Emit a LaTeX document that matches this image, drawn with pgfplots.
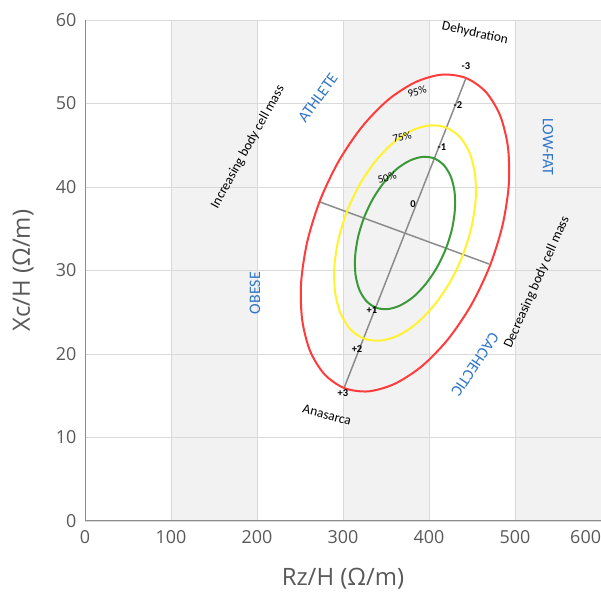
\documentclass[border=0pt]{standalone}
\usepackage{fontspec}
\setmainfont{Open Sans}
\newfontfamily\calfont{Carlito}
\usepackage{pgfplots}
\pgfplotsset{compat=1.18}
\definecolor{tickgray}{HTML}{595959}
\definecolor{bandgray}{HTML}{F2F2F2}
\definecolor{gridgray}{HTML}{D9D9D9}
\definecolor{ered}{HTML}{FF3B3B}
\definecolor{eyellow}{HTML}{FFF22E}
\definecolor{egreen}{HTML}{3A9A3A}
\definecolor{lblblue}{HTML}{2E75C8}
\definecolor{linegray}{HTML}{8C8C8C}
\begin{document}
\begin{tikzpicture}
\begin{axis}[
  set layers,
  scale only axis, width=516bp, height=501bp,
  at={(85bp,72bp)}, anchor=south west,
  xmin=0, xmax=600, ymin=0, ymax=60,
  xtick={0,100,...,600}, ytick={0,10,...,60},
  xticklabels={0,100,200,300,400,500,\makebox[0pt][r]{600}},
  grid=major, major grid style={gridgray, line width=0.8bp},
  major tick length=0pt,
  axis lines*=left, axis line style={draw=gray!90, line width=1bp, -},
  /pgf/number format/assume math mode=true,
  ticklabel style={font=\fontsize{18}{20}\selectfont, text=tickgray},
  xticklabel style={yshift=-6bp},
  yticklabel style={xshift=-5bp},
  xlabel={Rz/H (Ω/m)}, ylabel={Xc/H (Ω/m)},
  label style={font=\fontsize{24}{28}\selectfont, text=tickgray},
  xlabel style={at={(axis description cs:0.5,-0.116)}, anchor=center},
  ylabel style={at={(axis description cs:-0.120,0.5)}, anchor=center},
  clip=false,
]
% shaded bands
\addplot[draw=none, fill=bandgray, on layer=axis background] coordinates {(100,60) (200,60)} \closedcycle;
\addplot[draw=none, fill=bandgray, on layer=axis background] coordinates {(300,60) (400,60)} \closedcycle;
\addplot[draw=none, fill=bandgray, on layer=axis background] coordinates {(500,60) (600,60)} \closedcycle;
% axes of the ellipse
\addplot[linegray, line width=1.5bp] coordinates {(301.2,15.93) (443.0,53.05)};
\addplot[linegray, line width=1.5bp] coordinates {(273.3,38.20) (469.8,30.78)};
% 95% ellipse
\addplot[ered, line width=2bp, smooth cycle] coordinates {
(443.0,53.05) (466.1,51.38) (482.7,48.56) (491.8,44.78) (492.8,40.30) (485.5,35.42)
(470.5,30.48) (448.8,25.82) (421.9,21.74) (391.6,18.53) (359.9,16.42) (329.1,15.52)
(301.2,15.93) (278.2,17.60) (261.5,20.42) (252.4,24.20) (251.4,28.68) (258.7,33.56)
(273.7,38.50) (295.4,43.16) (322.3,47.24) (352.6,50.45) (384.3,52.56) (415.1,53.46)};
% 75% ellipse
\addplot[eyellow, line width=2bp, smooth cycle] coordinates {
(420.3,47.11) (436.0,45.98) (447.3,44.06) (453.5,41.49) (454.2,38.44) (449.2,35.12)
(439.0,31.76) (424.3,28.59) (405.9,25.82) (385.3,23.64) (363.8,22.20) (342.9,21.59)
(323.9,21.87) (308.2,23.00) (296.9,24.92) (290.7,27.49) (290.0,30.54) (295.0,33.86)
(305.2,37.22) (319.9,40.39) (338.3,43.16) (358.9,45.34) (380.4,46.78) (401.4,47.39)};
% 50% ellipse
\addplot[egreen, line width=2bp, smooth cycle] coordinates {
(406.2,43.42) (417.3,42.61) (425.3,41.26) (429.7,39.44) (430.1,37.28) (426.7,34.94)
(419.4,32.56) (409.0,30.32) (396.0,28.36) (381.5,26.81) (366.2,25.80) (351.4,25.37)
(338.0,25.56) (326.9,26.37) (318.9,27.72) (314.5,29.54) (314.1,31.70) (317.6,34.04)
(324.8,36.42) (335.2,38.66) (348.2,40.62) (362.7,42.17) (378.0,43.18) (392.8,43.61)};
% z-score labels
\begin{scope}[every node/.style={font=\calfont\bfseries\fontsize{10.5}{12}\selectfont, inner sep=0pt}]
\node at (axis cs:443.0,54.5) {-3};
\node at (axis cs:433.7,49.8) {-2};
\node at (axis cs:415.1,44.8) {-1};
\node at (axis cs:381.4,37.9) {0};
\node at (axis cs:333.7,25.3) {+1};
\node at (axis cs:316.3,20.6) {+2};
\node at (axis cs:300.0,15.3) {+3};
\end{scope}
% percentage labels
\begin{scope}[every node/.style={font=\calfont\fontsize{11}{12}\selectfont, inner sep=0pt, rotate=15}]
\node at (axis cs:386.0,51.4) {95\%};
\node at (axis cs:368.6,46.0) {75\%};
\node at (axis cs:351.2,41.1) {50\%};
\end{scope}
% annotations
\begin{scope}[every node/.style={font=\calfont\fontsize{13.5}{15}\selectfont, inner sep=0pt}]
\node[rotate=-12] at (axis cs:453.5,58.4) {Dehydration};
\node[rotate=-15] at (axis cs:281.4,12.7) {Anasarca};
\node[rotate=61] at (axis cs:189.5,44.8) {Increasing body cell mass};
\node[rotate=66] at (axis cs:525.6,28.6) {Decreasing body cell mass};
\end{scope}
\begin{scope}[every node/.style={font=\calfont\fontsize{16}{18}\selectfont, text=lblblue, inner sep=0pt}]
\node[rotate=54] at (axis cs:270.9,50.7) {ATHLETE};
\node[rotate=-90] at (axis cs:538.4,44.8) {LOW-FAT};
\node[rotate=90] at (axis cs:197.7,27.3) {OBESE};
\node[rotate=-124] at (axis cs:453.5,18.7) {CACHECTIC};
\end{scope}
\end{axis}
\pgfresetboundingbox
\path[use as bounding box] (0,0) rectangle (601bp,593bp);
\end{tikzpicture}
\end{document}
